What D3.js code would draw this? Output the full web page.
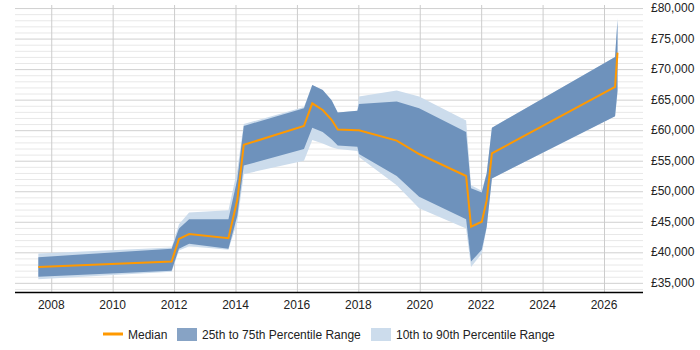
<!DOCTYPE html>
<html>
<head>
<meta charset="utf-8">
<script src="https://cdn.jsdelivr.net/npm/d3@7"></script>
<style>
  body { margin: 0; background: #fff; }
  svg { font-family: "Liberation Sans", Arial, sans-serif; }
</style>
</head>
<body>
<svg id="chart" width="700" height="350"></svg>
<script>
// values
const years = [2007.58, 2011.92, 2012.16, 2012.49, 2013.77, 2014.06, 2014.27, 2016.23, 2016.5, 2016.84,
  2017.13, 2017.33, 2017.97, 2018.02, 2019.25, 2019.98, 2021.51, 2021.67, 2022.02, 2022.18,
  2022.35, 2026.36, 2026.44];
const p10 = [35600, 36800, 40300, 41000, 40400, 45000, 52800, 55000, 58400, 57800,
  57200, 56900, 56600, 55600, 51000, 47200, 43900, 37600, 39800, 44000,
  52100, 62300, 66000];
const p25 = [36000, 37000, 40600, 41400, 40600, 46000, 54200, 56900, 60400, 59700,
  58500, 57500, 57300, 56100, 52500, 49100, 45400, 38500, 40400, 44200,
  52100, 62300, 66500];
const median = [37600, 38500, 42200, 43000, 42300, 48600, 57600, 60700, 64400, 63300,
  61700, 60100, 60000, 60000, 58300, 56100, 52500, 44200, 45000, 48500,
  56200, 67100, 72700];
const p75 = [39200, 40600, 43900, 45400, 45400, 52000, 60700, 63600, 67400, 66600,
  64900, 62900, 63200, 64300, 64700, 63600, 59700, 50500, 49800, 52900,
  60400, 72000, 78000];
const p90 = [39800, 40800, 44600, 46500, 46900, 53500, 61000, 63800, 67400, 66600,
  64900, 62900, 63200, 65500, 66500, 65500, 61600, 51000, 50100, 53000,
  60400, 72000, 78400];
const xTicks = [2008, 2010, 2012, 2014, 2016, 2018, 2020, 2022, 2024, 2026];
const yTicks = [35000, 40000, 45000, 50000, 55000, 60000, 65000, 70000, 75000, 80000];
const legendItems = ["Median", "25th to 75th Percentile Range", "10th to 90th Percentile Range"];

const svg = d3.select("#chart");
const plotLeft = 15, plotRight = 643, plotTop = 5, plotBottom = 292;

const x = d3.scaleLinear().domain([2006.82, 2027.27]).range([plotLeft, plotRight]);
const y = d3.scaleLinear().domain([33500, 80500]).range([plotBottom, plotTop]);

const rows = years.map((t, i) => ({
  t, p10: p10[i], p25: p25[i], p50: median[i], p75: p75[i], p90: p90[i]
}));

// grid
const minor = d3.range(34000, 80001, 1000).filter(v => v % 5000 !== 0);
svg.append("g").selectAll("line").data(minor).join("line")
  .attr("x1", plotLeft).attr("x2", plotRight)
  .attr("y1", d => y(d) + 0.5).attr("y2", d => y(d) + 0.5)
  .attr("stroke", "#e8e8e8");
svg.append("g").selectAll("line").data(yTicks).join("line")
  .attr("x1", plotLeft).attr("x2", plotRight)
  .attr("y1", d => y(d) + 0.5).attr("y2", d => y(d) + 0.5)
  .attr("stroke", "#d0d0d0");
svg.append("g").selectAll("line").data(xTicks).join("line")
  .attr("x1", d => x(d) + 0.5).attr("x2", d => x(d) + 0.5)
  .attr("y1", plotTop).attr("y2", plotBottom)
  .attr("stroke", "#cccccc");

// bands
const band = (lo, hi) => d3.area().x(d => x(d.t)).y0(d => y(d[lo])).y1(d => y(d[hi]));
svg.append("path").datum(rows).attr("d", band("p10", "p90")).attr("fill", "#ccdcec");
svg.append("path").datum(rows).attr("d", band("p25", "p75")).attr("fill", "#6e92bc");

// median
svg.append("path").datum(rows)
  .attr("d", d3.line().x(d => x(d.t)).y(d => y(d.p50)))
  .attr("fill", "none").attr("stroke", "#ff9900").attr("stroke-width", 2);

// x axis
svg.append("line").attr("x1", plotLeft).attr("x2", plotRight)
  .attr("y1", plotBottom + 0.5).attr("y2", plotBottom + 0.5)
  .attr("stroke", "#000").attr("stroke-width", 1.5);
svg.append("g").selectAll("text").data(xTicks).join("text")
  .attr("x", d => x(d)).attr("y", 309)
  .attr("text-anchor", "middle").attr("font-size", 12).attr("fill", "#222")
  .text(d => d);

// y labels on the right
svg.append("g").selectAll("text").data(yTicks).join("text")
  .attr("x", 651).attr("y", d => y(d) + 4)
  .attr("font-size", 12).attr("fill", "#222")
  .text(d => "£" + d3.format(",")(d));

// legend
const lg = svg.append("g").attr("font-size", 12).attr("fill", "#222");
lg.append("line").attr("x1", 103).attr("x2", 123).attr("y1", 334).attr("y2", 334)
  .attr("stroke", "#ff9900").attr("stroke-width", 3);
lg.append("text").attr("x", 128).attr("y", 339).text(legendItems[0]);
lg.append("rect").attr("x", 177).attr("y", 328).attr("width", 20).attr("height", 13).attr("fill", "#87a3c5");
lg.append("text").attr("x", 202).attr("y", 339).text(legendItems[1]);
lg.append("rect").attr("x", 371).attr("y", 328).attr("width", 20).attr("height", 13).attr("fill", "#ccdcec");
lg.append("text").attr("x", 396).attr("y", 339).text(legendItems[2]);
</script>
</body>
</html>
